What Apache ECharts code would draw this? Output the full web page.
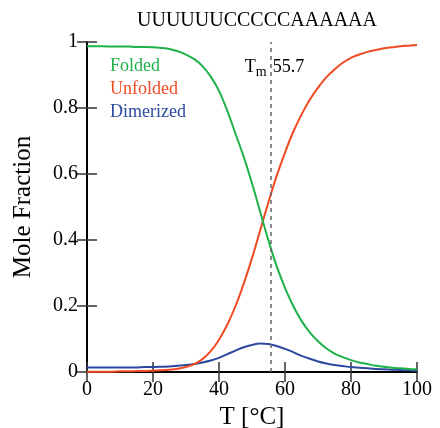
<!DOCTYPE html>
<html>
<head>
<meta charset="utf-8">
<script src="https://cdn.jsdelivr.net/npm/echarts@6/dist/echarts.min.js"></script>
<style>html,body{margin:0;padding:0;background:#fff}#c{width:440px;height:428px}</style>
</head>
<body>
<div id="c"></div>
<script>
const title = 'UUUUUUCCCCCAAAAAA';
const temps = [0,2.5,5,7.5,10,12.5,15,17.5,20,22.5,25,27.5,30,32.5,35,37.5,40,42.5,45,47.5,50,52.5,55,57.5,60,62.5,65,67.5,70,72.5,75,77.5,80,82.5,85,87.5,90,92.5,95,97.5,100];
const folded = [0.987,0.987,0.987,0.986,0.986,0.986,0.985,0.985,0.984,0.982,0.979,0.972,0.962,0.948,0.927,0.895,0.852,0.792,0.722,0.652,0.572,0.485,0.398,0.32,0.255,0.2,0.155,0.12,0.093,0.072,0.056,0.045,0.036,0.029,0.024,0.019,0.016,0.013,0.011,0.009,0.008];
const unfolded = [0.001,0.001,0.001,0.001,0.002,0.002,0.003,0.003,0.004,0.005,0.007,0.01,0.015,0.024,0.039,0.063,0.098,0.143,0.2,0.268,0.345,0.43,0.515,0.595,0.665,0.728,0.78,0.825,0.862,0.893,0.917,0.937,0.952,0.962,0.97,0.976,0.981,0.984,0.987,0.989,0.991];
const dimerized = [0.014,0.014,0.014,0.014,0.014,0.014,0.014,0.015,0.015,0.016,0.017,0.019,0.021,0.024,0.029,0.035,0.043,0.054,0.065,0.075,0.082,0.086,0.085,0.079,0.07,0.06,0.049,0.04,0.032,0.026,0.021,0.018,0.015,0.013,0.011,0.009,0.008,0.007,0.006,0.005,0.004];
const seriesNames = ['Folded','Unfolded','Dimerized'];
const tm = 55.7;
const xTicks = [0,20,40,60,80,100];
const yTicks = [0,0.2,0.4,0.6,0.8,1];

const colors = ['#1fb24a','#ef4b23','#2c49a0'];
const serif = '"Liberation Serif","DejaVu Serif",serif';
const chart = echarts.init(document.getElementById('c'));
const pairs = v => temps.map((t,i)=>[t,v[i]]);
const axisCommon = {
  type:'value', min:xTicks[0], max:xTicks[xTicks.length-1], interval:xTicks[1]-xTicks[0],
  axisLine:{show:true,lineStyle:{color:'#000',width:2}},
  axisTick:{show:true,inside:true,length:10,lineStyle:{color:'#333',width:1.5}},
  splitLine:{show:false}
};
const yCommon = {
  type:'value', min:yTicks[0], max:yTicks[yTicks.length-1], interval:0.2,
  axisLine:{show:true,lineStyle:{color:'#000',width:2}},
  axisTick:{show:true,inside:true,length:10,lineStyle:{color:'#333',width:1.5}},
  splitLine:{show:false}
};
const vals = [folded, unfolded, dimerized];
const option = {
  animation:false,
  color: colors,
  title:{text:title,left:252,top:6,textAlign:'center',textStyle:{fontFamily:serif,fontSize:20,fontWeight:'normal',color:'#000'}},
  grid:{left:87,right:23,top:42,bottom:56,containLabel:false,outerBoundsMode:'none'},
  legend:{
    orient:'vertical', left:100, top:52, icon:'none', itemWidth:0, itemHeight:14, itemGap:5,
    data: seriesNames.map((n,i)=>({name:n,textStyle:{color:colors[i]}})),
    textStyle:{fontFamily:serif,fontSize:18},
    selectedMode:false
  },
  xAxis:[
    Object.assign({}, axisCommon, {position:'bottom', name:'T [°C]', nameLocation:'middle', nameGap:30,
      nameTextStyle:{fontFamily:serif,fontSize:25,color:'#000'},
      axisLabel:{fontFamily:serif,fontSize:20,color:'#000',margin:8}}),
    Object.assign({}, axisCommon, {position:'top', axisLabel:{show:false}})
  ],
  yAxis:[
    Object.assign({}, yCommon, {position:'left', name:'Mole Fraction', nameLocation:'middle', nameGap:51,
      nameTextStyle:{fontFamily:serif,fontSize:25,color:'#000'},
      axisLabel:{fontFamily:serif,fontSize:20,color:'#000',margin:9}}),
    Object.assign({}, yCommon, {position:'right', axisLabel:{show:false}})
  ],
  series: seriesNames.map((n,i)=>({
    name:n, type:'line', data:pairs(vals[i]), smooth:0.3, showSymbol:false,
    lineStyle:{width:2,color:colors[i]}, itemStyle:{color:colors[i]}, z: 3-i,
    markLine: i===0 ? {silent:true, symbol:'none', label:{show:false},
      lineStyle:{type:[4,4],color:'#666',width:1.5}, data:[{xAxis:tm}]} : undefined
  }))
};
chart.setOption(option);
const p = chart.convertToPixel({xAxisIndex:0,yAxisIndex:0},[tm,0.93]);
chart.setOption({graphic:[{
  type:'text', x:p[0]-26, y:p[1]-10, z:10,
  style:{
    text:'{t|T}{m|m}{s| }{v|' + tm + '}',
    rich:{
      t:{fontFamily:serif,fontSize:18,fill:'#000'},
      m:{fontFamily:serif,fontSize:14,fill:'#000',padding:[10,0,0,0]},
      s:{fontFamily:serif,fontSize:18,width:6},
      v:{fontFamily:serif,fontSize:18,fill:'#000'}
    }
  }
}]});
</script>
</body>
</html>
